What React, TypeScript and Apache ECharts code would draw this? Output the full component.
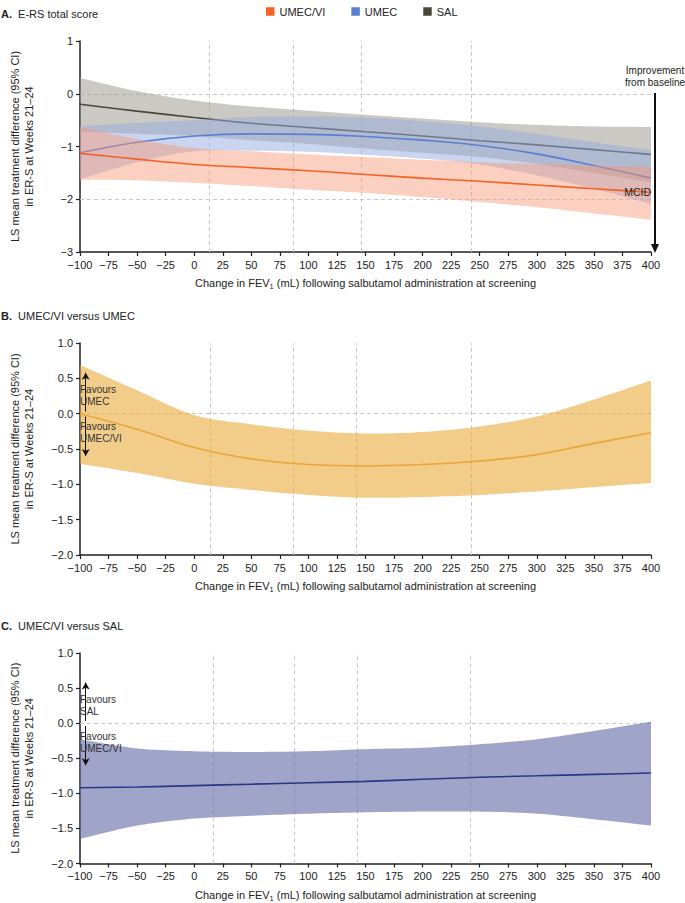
import React, { useEffect, useRef } from "react";
import * as echarts from "echarts";

// ---------- data ----------
const X = [-100, -50, 0, 50, 100, 150, 200, 250, 300, 350, 400];

// Panel A: E-RS total score (LS mean change) by treatment
const A_SAL = [-0.2, -0.33, -0.45, -0.56, -0.64, -0.72, -0.8, -0.89, -0.97, -1.06, -1.15];
const A_SAL_UP = [0.3, 0.05, -0.13, -0.24, -0.32, -0.4, -0.47, -0.54, -0.59, -0.62, -0.63];
const A_SAL_LO = [-0.72, -0.76, -0.8, -0.88, -0.95, -1.04, -1.12, -1.2, -1.33, -1.5, -1.68];

const A_UMEC = [-1.12, -0.92, -0.8, -0.76, -0.77, -0.81, -0.88, -0.98, -1.14, -1.36, -1.6];
const A_UMEC_UP = [-0.62, -0.55, -0.5, -0.44, -0.43, -0.45, -0.52, -0.62, -0.76, -0.92, -1.07];
const A_UMEC_LO = [-1.62, -1.3, -1.09, -1.08, -1.1, -1.16, -1.23, -1.34, -1.55, -1.8, -2.09];

const A_UV = [-1.13, -1.24, -1.34, -1.4, -1.46, -1.53, -1.6, -1.66, -1.73, -1.8, -1.87];
const A_UV_UP = [-0.63, -0.86, -1.03, -1.09, -1.15, -1.2, -1.25, -1.3, -1.33, -1.36, -1.38];
const A_UV_LO = [-1.63, -1.64, -1.69, -1.75, -1.82, -1.88, -1.96, -2.05, -2.15, -2.27, -2.39];

// Panel B: UMEC/VI versus UMEC
const B_DIFF = [0.0, -0.22, -0.48, -0.64, -0.72, -0.74, -0.72, -0.67, -0.58, -0.42, -0.27];
const B_UP = [0.69, 0.33, -0.02, -0.15, -0.24, -0.28, -0.26, -0.18, -0.04, 0.2, 0.47];
const B_LO = [-0.71, -0.84, -0.99, -1.08, -1.15, -1.19, -1.18, -1.15, -1.1, -1.04, -0.98];

// Panel C: UMEC/VI versus SAL
const C_DIFF = [-0.92, -0.91, -0.89, -0.87, -0.85, -0.83, -0.8, -0.77, -0.75, -0.73, -0.71];
const C_UP = [-0.23, -0.36, -0.4, -0.41, -0.4, -0.37, -0.35, -0.3, -0.23, -0.11, 0.02];
const C_LO = [-1.65, -1.46, -1.36, -1.32, -1.29, -1.27, -1.26, -1.26, -1.29, -1.37, -1.46];

// dashed reference lines (x, mL)
const A_VLINES = [13, 87, 146, 243];
const B_VLINES = [14, 87, 142, 243];
const C_VLINES = [17, 88, 143, 242];
const A_HLINES = [0, -2];

const LEGEND = ["UMEC/VI", "UMEC", "SAL"];
const X_TICKS = { min: -100, max: 400, interval: 25 };
const YA_TICKS = { min: -3, max: 1, interval: 1 };
const YBC_TICKS = { min: -2, max: 1, interval: 0.5 };

const FONT = "'Liberation Sans', Arial, Helvetica, sans-serif";
const INK = "#222";

const minus = (s: string) => s.replace("-", "\u2212");

// Catmull-Rom smoothing of pixel points (rendering only)
function smoothPts(pts: number[][], seg = 10): number[][] {
  const out: number[][] = [];
  const n = pts.length;
  for (let i = 0; i < n - 1; i++) {
    const p0 = pts[Math.max(0, i - 1)];
    const p1 = pts[i];
    const p2 = pts[i + 1];
    const p3 = pts[Math.min(n - 1, i + 2)];
    for (let s = 0; s < seg; s++) {
      const t = s / seg;
      const t2 = t * t;
      const t3 = t2 * t;
      const f = (a: number, b: number, c: number, d: number) =>
        0.5 * (2 * b + (-a + c) * t + (2 * a - 5 * b + 4 * c - d) * t2 + (-a + 3 * b - 3 * c + d) * t3);
      out.push([f(p0[0], p1[0], p2[0], p3[0]), f(p0[1], p1[1], p2[1], p3[1])]);
    }
  }
  out.push(pts[n - 1]);
  return out;
}

function bandSeries(id: string, gi: number, lo: number[], up: number[], color: string, z: number) {
  return {
    type: "custom",
    name: id + " 95% CI",
    xAxisIndex: gi,
    yAxisIndex: gi,
    silent: true,
    z,
    data: X.map((x, i) => [x, lo[i], up[i]]),
    encode: { x: 0, y: [1, 2] },
    renderItem: (params: any, api: any) => {
      if (params.dataIndex !== 0) return null;
      const upper = smoothPts(X.map((x, i) => api.coord([x, up[i]])));
      const lower = smoothPts(X.map((x, i) => api.coord([x, lo[i]])));
      return {
        type: "polygon",
        shape: { points: [...upper, ...lower.reverse()] },
        style: { fill: color },
      };
    },
  };
}

function lineSeries(name: string, gi: number, vals: number[], color: string, z: number, extra: any = {}) {
  return {
    type: "line",
    name,
    xAxisIndex: gi,
    yAxisIndex: gi,
    z,
    data: X.map((x, i) => [x, vals[i]]),
    symbol: "none",
    smooth: 0.4,
    silent: true,
    itemStyle: { color },
    lineStyle: { color, width: 1.6 },
    ...extra,
  };
}

const dashed = { color: "#c9c9c9", width: 1, type: [4, 3] };

// empty carrier series for reference lines / annotations
function markerSeries(name: string, gi: number, z: number, markLine: any) {
  return {
    type: "line",
    name,
    xAxisIndex: gi,
    yAxisIndex: gi,
    z,
    data: [],
    silent: true,
    markLine: { ...markLine, z },
  };
}

function refLines(v: number[], h: number[]) {
  return {
    silent: true,
    symbol: "none",
    label: { show: false },
    lineStyle: dashed,
    data: [...v.map((x) => ({ xAxis: x })), ...h.map((y) => ({ yAxis: y }))],
  };
}

function favourArrows() {
  return {
    silent: true,
    label: { show: false },
    symbol: ["none", "arrow"],
    symbolSize: [6, 7],
    lineStyle: { color: "#111", width: 1, type: "solid" },
    data: [
      [{ coord: [-95, 0.03] }, { coord: [-95, 0.58] }],
      [{ coord: [-95, -0.04] }, { coord: [-95, -0.6] }],
    ],
  };
}

const X_NAME =
  "{a|Change in FEV}{s|1}{a| (mL) following salbutamol administration at screening}";
const Y_NAME = "LS mean treatment difference (95% CI)\nin ER-S at Weeks 21\u201324";

function xAxis(gi: number) {
  return {
    type: "value",
    gridIndex: gi,
    ...X_TICKS,
    axisLine: { show: true, onZero: false, lineStyle: { color: INK, width: 1.5 } },
    axisTick: { show: true, length: 4, lineStyle: { color: INK, width: 1.2 } },
    axisLabel: { fontSize: 11, color: INK, margin: 7, fontFamily: FONT, formatter: (v: number) => minus(String(v)) },
    splitLine: { show: false },
    name: X_NAME,
    nameLocation: "middle",
    nameGap: 24,
    nameTextStyle: {
      rich: {
        a: { fontSize: 11, color: INK, fontFamily: FONT, lineHeight: 14 },
        s: { fontSize: 7.5, color: INK, fontFamily: FONT, lineHeight: 14, padding: [7, 0, 0, 0] },
      },
    },
  };
}

function yAxis(gi: number, ticks: any, decimals: number) {
  return {
    type: "value",
    gridIndex: gi,
    ...ticks,
    axisLine: { show: true, onZero: false, lineStyle: { color: INK, width: 1.5 } },
    axisTick: { show: true, length: 4, lineStyle: { color: INK, width: 1.2 } },
    axisLabel: {
      fontSize: 11,
      color: INK,
      margin: 7,
      fontFamily: FONT,
      formatter: (v: number) => minus(v.toFixed(decimals)),
    },
    splitLine: { show: false },
    name: Y_NAME,
    nameLocation: "middle",
    nameRotate: 90,
    nameGap: 44,
    nameTextStyle: { fontSize: 11, color: INK, fontFamily: FONT, lineHeight: 14, align: "center" },
  };
}

function title(y: number, letter: string, text: string) {
  return {
    type: "text",
    left: 1,
    top: y - 7,
    style: {
      text: `{b|${letter}}  ${text}`,
      fontSize: 11,
      fill: INK,
      fontFamily: FONT,
      rich: { b: { fontWeight: "bold", fontSize: 11, fontFamily: FONT, fill: INK } },
    },
  };
}

function favText(x: number, y: number, text: string) {
  return {
    type: "text",
    x,
    y,
    z: 100,
    style: {
      text,
      fontSize: 10,
      lineHeight: 12,
      fill: "#333",
      fontFamily: FONT,
      verticalAlign: "middle",
      align: "left",
    },
  };
}

export default function App() {
  const ref = useRef<HTMLDivElement>(null);

  useEffect(() => {
    document.body.style.margin = "0";
    if (!ref.current) return;
    const chart = echarts.init(ref.current, undefined, { renderer: "svg" });

    const series: any[] = [
      // Panel A
      markerSeries("A reference lines", 0, 1, refLines(A_VLINES, A_HLINES)),
      bandSeries("SAL", 0, A_SAL_LO, A_SAL_UP, "rgba(151,147,135,0.5)", 2),
      lineSeries("SAL", 0, A_SAL, "#4a4739", 3),
      bandSeries("UMEC", 0, A_UMEC_LO, A_UMEC_UP, "rgba(150,172,224,0.5)", 4),
      lineSeries("UMEC", 0, A_UMEC, "#5a7fd0", 5),
      bandSeries("UMEC/VI", 0, A_UV_LO, A_UV_UP, "rgba(248,150,115,0.45)", 6),
      lineSeries("UMEC/VI", 0, A_UV, "#f4622a", 7),
      // Panel B
      markerSeries("B reference lines", 1, 1, refLines(B_VLINES, [0])),
      bandSeries("B", 1, B_LO, B_UP, "rgba(232,164,42,0.55)", 2),
      lineSeries("UMEC/VI vs UMEC", 1, B_DIFF, "#e9a637", 3),
      markerSeries("B arrows", 1, 10, favourArrows()),
      // Panel C
      markerSeries("C reference lines", 2, 1, refLines(C_VLINES, [0])),
      bandSeries("C", 2, C_LO, C_UP, "rgba(97,103,163,0.6)", 2),
      lineSeries("UMEC/VI vs SAL", 2, C_DIFF, "#2b3589", 3),
      markerSeries("C arrows", 2, 10, favourArrows()),
    ];

    chart.setOption({
      animation: false,
      textStyle: { fontFamily: FONT },
      legend: {
        data: LEGEND,
        left: 261,
        top: 1,
        icon: "rect",
        itemWidth: 8.5,
        itemHeight: 8.5,
        itemGap: 26,
        textStyle: { fontSize: 11, color: INK, fontFamily: FONT },
      },
      grid: [
        { left: 68, top: 41, width: 583, height: 211 },
        { left: 68, top: 343, width: 583, height: 212 },
        { left: 68, top: 653, width: 583, height: 211 },
      ],
      xAxis: [xAxis(0), xAxis(1), xAxis(2)],
      yAxis: [yAxis(0, YA_TICKS, 0), yAxis(1, YBC_TICKS, 1), yAxis(2, YBC_TICKS, 1)],
      series,
      graphic: [
        title(15.7, "A.", "E-RS total score"),
        title(317.3, "B.", "UMEC/VI versus UMEC"),
        title(627.3, "C.", "UMEC/VI versus SAL"),
        {
          type: "text",
          x: 655,
          y: 76.5,
          z: 100,
          style: {
            text: "Improvement\nfrom baseline",
            fontSize: 10,
            lineHeight: 11.5,
            fill: INK,
            fontFamily: FONT,
            align: "center",
            verticalAlign: "middle",
          },
        },
        {
          type: "line",
          z: 100,
          shape: { x1: 655, y1: 93, x2: 655, y2: 246 },
          style: { stroke: "#111", lineWidth: 2 },
        },
        {
          type: "polygon",
          z: 100,
          shape: { points: [[651, 244], [659, 244], [655, 253]] },
          style: { fill: "#111" },
        },
        {
          type: "text",
          x: 651,
          y: 191.5,
          z: 100,
          style: {
            text: "MCID",
            fontSize: 10.5,
            fill: INK,
            fontFamily: FONT,
            align: "right",
            verticalAlign: "middle",
          },
        },
        favText(80, 395, "Favours\nUMEC"),
        favText(80, 432.5, "Favours\nUMEC/VI"),
        favText(80, 705, "Favours\nSAL"),
        favText(80, 742.5, "Favours\nUMEC/VI"),
      ],
    });

    return () => chart.dispose();
  }, []);

  return <div ref={ref} style={{ width: 685, height: 903 }} />;
}
